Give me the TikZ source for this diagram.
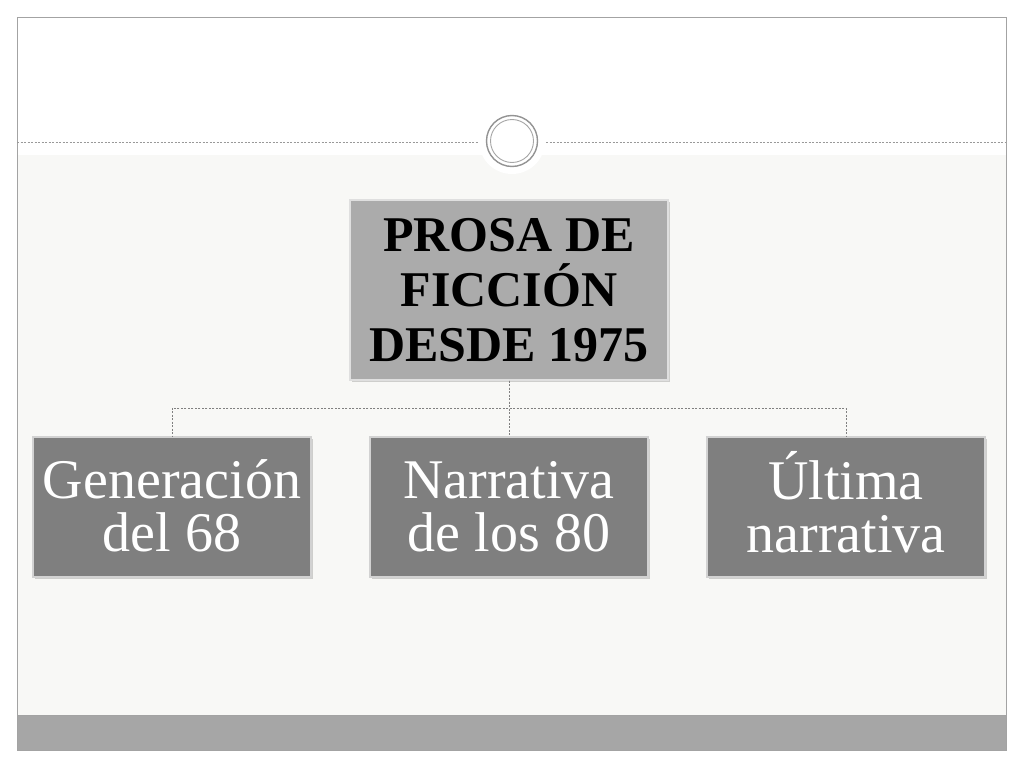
\documentclass[tikz,border=0pt]{standalone}
\usepackage{fontspec}
\setmainfont{Liberation Serif}
\usepackage{tikz}
\usetikzlibrary{shadows}

\definecolor{slidebg}{HTML}{F8F8F6}
\definecolor{framegray}{HTML}{A3A3A3}
\definecolor{barfill}{HTML}{A6A6A6}
\definecolor{topfill}{HTML}{ABABAB}
\definecolor{childfill}{HTML}{7F7F7F}

\tikzset{
	topbox/.style = {fill = topfill, draw = gray!25, line width = 1.2pt, minimum width = 318pt, minimum height = 180pt, inner sep = 0pt, align = center, text = black, font = \fontsize{50}{55}\selectfont\bfseries, drop shadow = {shadow xshift = 2pt, shadow yshift = -2pt, opacity = 0.35}},
	childbox/.style = {fill = childfill, draw = gray!35, line width = 1.2pt, minimum width = 278pt, minimum height = 140pt, inner sep = 0pt, align = center, text = white, font = \fontsize{56}{53}\selectfont, drop shadow = {shadow xshift = 2pt, shadow yshift = -2pt, opacity = 0.35}},
	link/.style = {draw = gray, dashed, line width = 0.6pt, dash pattern = on 2pt off 1.5pt},
	headline/.style = {draw = gray!80, line width = 0.7pt, dash pattern = on 2pt off 1.5pt}
}

\begin{document}
\begin{tikzpicture}[x = 1pt, y = -1pt]
	\def\frameL{17};
	\def\frameR{1006};
	\def\frameT{17};
	\def\frameB{750};
	\def\headY{142};
	\def\barY{715};
	\def\linkY{408};

	\useasboundingbox (0,0) rectangle (1024,768);

	\begin{scope}
		\fill [white] (0,0) rectangle (1024,768);
		\fill [slidebg] (\frameL,155) rectangle (\frameR,\barY);
		\fill [barfill] (\frameL,\barY) rectangle (\frameR,\frameB);
		\draw [framegray, line width = 0.8pt] (\frameL,\frameT) rectangle (\frameR,\frameB);
		\draw [framegray, line width = 0.6pt] (\frameL,\barY) -- (\frameR,\barY);
	\end{scope}

	\begin{scope}
		\draw [headline] (\frameL,\headY) -- (478,\headY);
		\draw [headline] (546,\headY) -- (\frameR,\headY);
		\fill [white] (512,141) circle (33);
		\draw [gray!85, line width = 1.4pt] (512,141) circle (25.5);
		\draw [gray!70, line width = 0.9pt] (512,141) circle (21.5);
	\end{scope}

	\node [topbox] (prosa) at (509,290) {PROSA DE\\FICCIÓN\\DESDE 1975};
	\node [childbox] (gen) at (172,507) {Generaci\smash{ó}n\\del 68};
	\node [childbox] (narr) at (509,507) {Narrativa\\de los 80};
	\node [childbox] (ultima) at (846,507) {\smash{Ú}ltima\\narrativa};

	\begin{scope}
		\draw [link] (prosa.south) -- (509,\linkY) -| (gen.north);
		\draw [link] (prosa.south) -- (narr.north);
		\draw [link] (prosa.south) -- (509,\linkY) -| (ultima.north);
	\end{scope}
\end{tikzpicture}
\end{document}
